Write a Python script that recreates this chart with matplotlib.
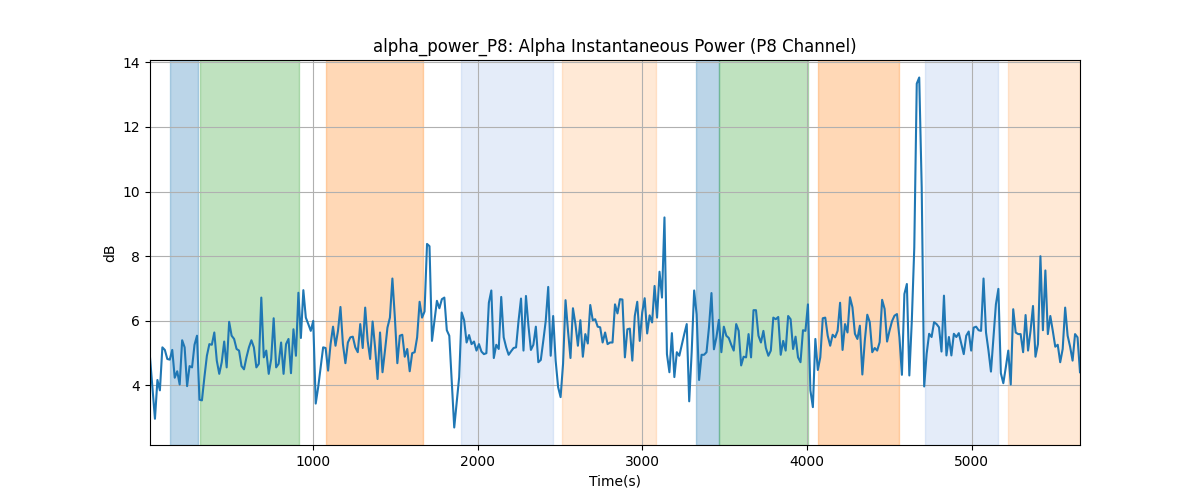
import numpy as np
import matplotlib
matplotlib.use("Agg")
import matplotlib.pyplot as plt

# time range of the recording (s)
t_start = 9
t_end = 5657

# alpha power in dB left to right
alpha_power = [
    4.87, 3.90, 2.97, 4.17, 3.85, 5.18, 5.10, 4.82, 4.80, 5.10, 4.24, 4.44, 4.03, 5.40, 5.18, 3.98, 4.60,
    4.56, 5.26, 5.54, 3.56, 3.54, 4.26, 4.92, 5.28, 5.26, 5.64, 4.77, 4.36, 4.72, 5.36, 4.56, 5.97,
    5.54, 5.44, 5.13, 5.08, 4.60, 4.50, 4.87, 5.18, 5.40, 5.18, 4.56, 4.67, 6.72, 4.87,
    5.08, 4.36, 4.82, 6.08, 4.56, 4.67, 5.33, 4.36, 5.28, 5.44, 4.38, 5.74, 4.92, 6.87, 5.47, 6.95,
    6.10, 5.90, 5.69, 6.00, 3.44, 3.95, 4.56, 5.18, 5.16, 4.46, 5.28, 5.82, 5.23, 5.69, 6.43, 5.28,
    4.69, 5.33, 5.49, 5.51, 5.18, 5.03, 5.90, 5.16, 6.41, 5.38, 4.82, 5.98, 5.18, 4.20,
    5.64, 4.41, 5.08, 5.79, 6.10, 7.31, 6.10, 4.69, 5.54, 5.57, 4.89, 5.13, 4.44, 5.00, 5.03, 5.49,
    6.59, 6.10, 6.29, 8.38, 8.31, 5.38, 6.00, 6.62, 6.39, 6.67, 6.72, 5.71, 5.54, 4.15, 2.70, 3.49,
    4.26, 6.26, 6.02, 5.33, 5.56, 5.28, 5.36, 5.08, 5.28, 5.05, 4.97, 5.00, 6.56, 6.94, 4.85, 5.26,
    5.13, 6.74, 5.49, 5.18, 4.95, 5.06, 5.16, 5.18, 6.00, 6.69, 5.08, 6.77, 5.85, 5.10, 5.26, 5.82,
    4.72, 4.79, 5.38, 6.00, 7.05, 4.92, 6.15, 4.77, 3.95, 3.64, 4.67, 6.64, 5.69, 4.85, 6.39, 5.90,
    5.23, 6.02, 4.89, 5.59, 5.30, 6.49, 6.02, 6.05, 5.82, 5.80, 5.33, 5.64, 5.28, 5.33, 5.33,
    6.51, 6.23, 6.67, 6.66, 4.87, 5.74, 5.76, 4.77, 6.15, 6.59, 5.38, 6.26, 6.70, 5.61, 6.17, 5.95,
    7.08, 6.10, 7.52, 6.72, 9.20, 4.97, 4.41, 5.62, 4.26, 5.03, 4.92, 5.26, 5.59, 5.90, 3.51, 5.03,
    6.94, 6.20, 4.17, 4.95, 4.95, 5.03, 5.80, 6.86, 5.12, 5.49, 6.03, 5.03, 5.82, 5.54, 5.47, 5.26,
    5.08, 5.90, 5.69, 4.62, 4.89, 4.87, 5.59, 4.87, 6.33, 6.33, 5.54, 5.33, 5.69, 5.16, 4.92, 5.08,
    6.10, 6.05, 6.12, 4.95, 5.38, 5.08, 6.15, 6.05, 5.13, 5.51, 4.87, 4.72, 5.71, 5.69, 6.51, 3.85,
    3.33, 5.44, 4.48, 4.87, 6.08, 6.10, 5.54, 5.23, 5.57, 5.49, 5.69, 6.56, 5.10, 5.90, 5.64,
    6.73, 6.42, 5.60, 5.44, 5.85, 4.34, 5.39, 6.19, 5.96, 5.03, 5.16, 5.08, 5.34, 6.65, 6.37, 5.36,
    5.70, 5.99, 6.16, 6.21, 5.49, 4.33, 6.83, 7.14, 4.31, 6.00, 8.27, 13.34, 13.53, 10.13, 3.97, 4.98,
    5.60, 5.50, 5.96, 5.90, 5.80, 5.05, 6.78, 4.93, 5.50, 4.93, 5.60, 5.50, 5.62, 5.29,
    4.97, 5.54, 5.67, 5.08, 5.79, 5.82, 5.71, 5.69, 7.31, 5.64, 5.08, 4.43, 5.49, 6.51, 6.99, 4.38,
    4.07, 4.56, 5.08, 4.03, 6.36, 5.64, 5.59, 5.59, 5.03, 6.18, 5.08, 5.69, 6.46, 4.89, 5.28, 8.00,
    5.71, 7.56, 5.59, 6.15, 5.69, 5.20, 5.26, 4.72, 5.13, 6.41, 5.54, 5.20, 4.77, 5.59, 5.49, 4.41,
]

# task blocks (s)
block_starts = [131, 313, 1079, 1900, 2514, 3322, 3462, 4064, 4714, 5219]
block_ends = [301, 915, 1669, 2459, 3085, 3462, 4003, 4556, 5158, 5657]
block_kinds = ['rest', 'task_a', 'task_b', 'recall_a', 'recall_b',
               'rest', 'task_a', 'task_b', 'recall_a', 'recall_b']

kind_style = {
    'rest': ('tab:blue', 0.3),
    'task_a': ('tab:green', 0.3),
    'task_b': ('tab:orange', 0.3),
    'recall_a': ('#4a86d8', 0.15),
    'recall_b': ('tab:orange', 0.17),
}

t = np.linspace(t_start, t_end, len(alpha_power))

fig, ax = plt.subplots(figsize=(12, 5), dpi=100)
for s, e, k in zip(block_starts, block_ends, block_kinds):
	c, a = kind_style[k]
	ax.axvspan(s, e, color=c, alpha=a)
ax.plot(t, alpha_power, color='tab:blue', linewidth=1.5)
ax.set_xlim(t[0], t[-1])
ax.set_title("alpha_power_P8: Alpha Instantaneous Power (P8 Channel)")
ax.set_xlabel("Time(s)")
ax.set_ylabel("dB")
ax.grid(True)
fig.savefig("out.png")
